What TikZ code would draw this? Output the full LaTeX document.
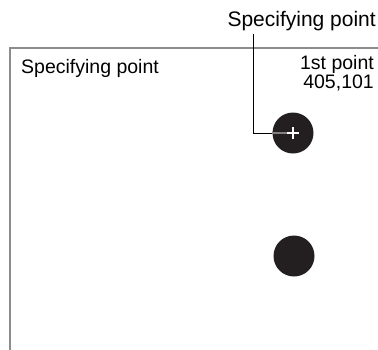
\documentclass[tikz,border=0pt]{standalone}
\usepackage{fontspec}
\setmainfont{Liberation Sans}
\usetikzlibrary{positioning, calc}
\definecolor{dotfill}{HTML}{231F20}

\begin{document}
\begin{tikzpicture}[
        x=1pt, y=-1pt,
        txt/.style={inner sep=0pt, font=\fontsize{19.5}{16.5}\selectfont},
        dot/.style={circle, fill=dotfill, minimum size=41pt, inner sep=0pt},
        frame/.style={draw=black!45, line width=2pt},
        leader/.style={draw=black, line width=1pt}
    ]
    \useasboundingbox (0,0) rectangle (378,349);
    % screen frame
    \draw [frame] (10,352) -- (10,48) -- (382,48);
    % texts
    \node (label) [txt, font=\fontsize{21}{19}\selectfont, anchor=base east] at (376,26) {Specifying point};
    \node (spec) [txt, anchor=base west] at (21,73) {Specifying point};
    \node (first) [txt, align=right, anchor=base east] at (374,88.5) {1st point\\405,101};
    % points
    \node (pt1) [dot] at (293,133) {};
    \node (pt2) [dot] at (294,256) {};
    % leader line
    \coordinate (top) at (253,34);
    \coordinate (bend) at (253,133);
    \draw [leader] (top) -- (bend) -- (pt1.west);
    \draw [draw=black!50, line width=1.5pt] (pt1.west) -- ($(pt1.center)+(-5,0)$);
    \draw [white, line width=1.5pt] ($(pt1.center)+(-6,0)$) -- ($(pt1.center)+(6,0)$)
        ($(pt1.center)+(0,-6)$) -- ($(pt1.center)+(0,6)$);
\end{tikzpicture}
\end{document}
